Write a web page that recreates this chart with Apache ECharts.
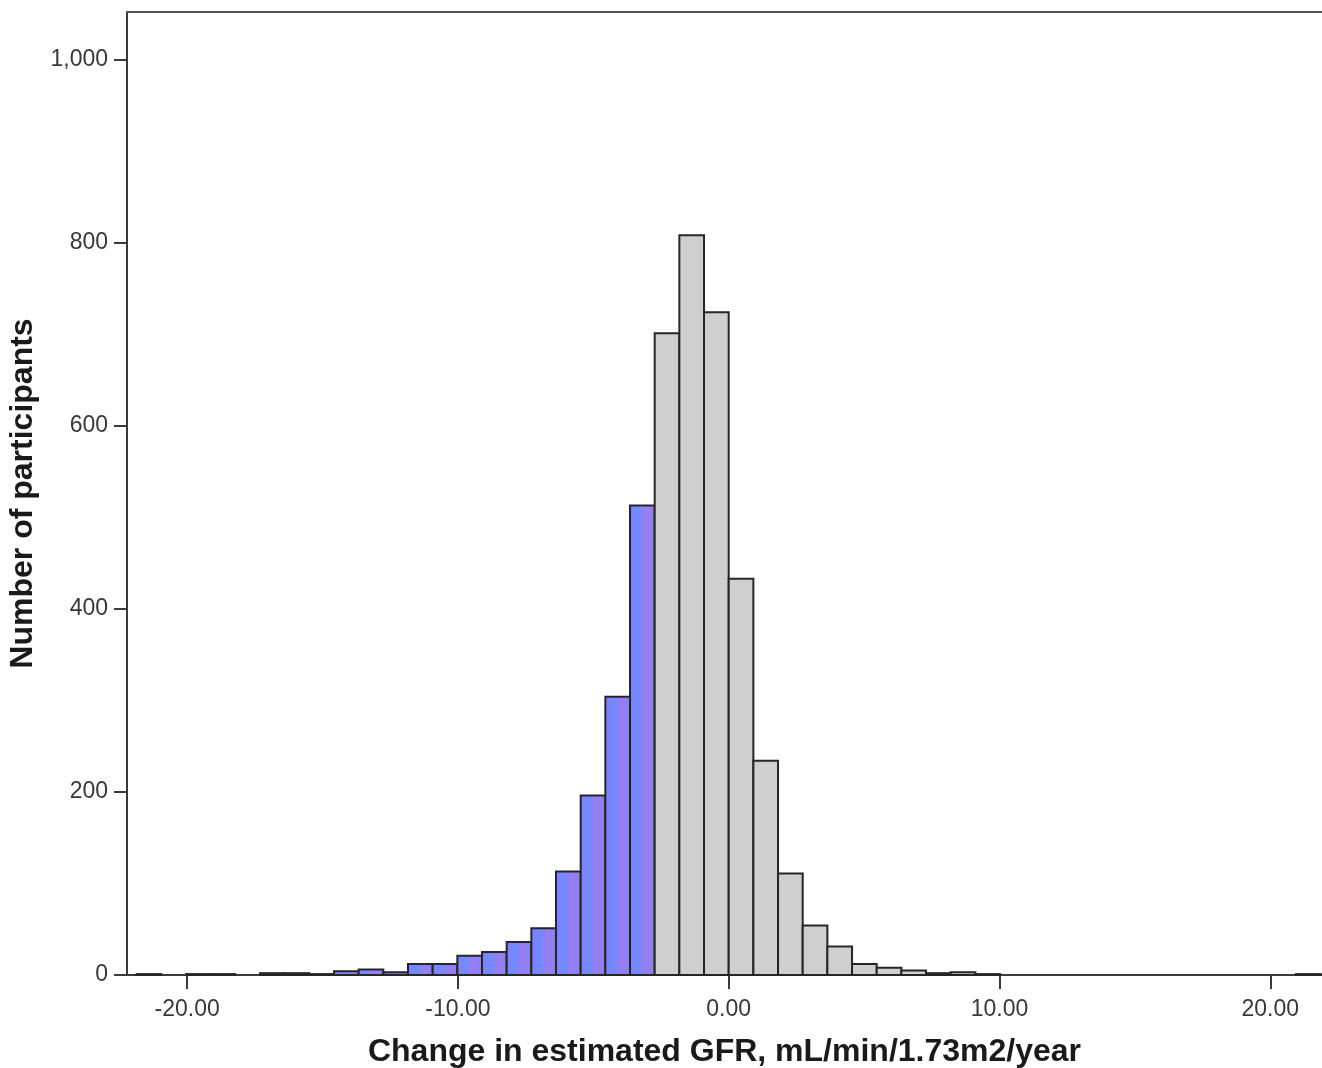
<!DOCTYPE html>
<html>
<head>
<meta charset="utf-8">
<script src="https://cdn.jsdelivr.net/npm/echarts@6/dist/echarts.min.js"></script>
<style>
html,body{margin:0;padding:0;background:#fff;}
#chart{width:1322px;height:1068px;}
</style>
</head>
<body>
<div id="chart"></div>
<script>
// Histogram bins: left edge of each bin (mL/min/1.73m2/year) and participant counts
const binWidth = 0.911;
const binLeft = [-21.864, -20.042, -19.131, -17.309, -16.398, -15.487, -14.576, -13.665, -12.754,
  -11.843, -10.932, -10.021, -9.110, -8.199, -7.288, -6.377, -5.466, -4.555, -3.644,
  -2.733, -1.822, -0.911, 0.000, 0.911, 1.822, 2.733, 3.644, 4.555, 5.466, 6.377,
  7.288, 8.199, 9.110, 20.953];
const counts = [1, 1, 1, 2, 2, 1, 4, 6, 3,
  12, 12, 21, 25, 36, 51, 113, 196, 304, 513,
  701, 808, 724, 433, 234, 111, 54, 31, 12, 8, 5,
  2, 3, 1, 1];
// Bins ending at or below this value are highlighted
const declineThreshold = -2.7;
const xTicks = [-20, -10, 0, 10, 20];
const yTicks = [0, 200, 400, 600, 800, 1000];
const xTitle = 'Change in estimated GFR, mL/min/1.73m2/year';
const yTitle = 'Number of participants';

const chart = echarts.init(document.getElementById('chart'), null, {renderer: 'canvas'});
const data = binLeft.map((l, i) => [l, l + binWidth, counts[i]]);

const blueFill = new echarts.graphic.LinearGradient(0, 0, 1, 0, [
  {offset: 0, color: '#8a7ef2'},
  {offset: 0.35, color: '#6e8bff'},
  {offset: 0.65, color: '#9a7df1'},
  {offset: 1, color: '#8383f6'}
]);

const axisColor = '#3a3a3a';
const labelStyle = {color: '#383838', fontFamily: 'Liberation Sans, Arial, sans-serif', fontSize: 23};

chart.setOption({
  animation: false,
  backgroundColor: '#ffffff',
  grid: {left: 127, right: 0, top: 12, bottom: 93, containLabel: false, outerBoundsMode: 'none'},
  xAxis: [{
    type: 'value', min: -22.22, max: 21.91,
    position: 'bottom',
    name: xTitle, nameLocation: 'middle', nameGap: 61,
    nameTextStyle: {fontFamily: 'Liberation Sans, Arial, sans-serif', fontSize: 32, fontWeight: 'bold', color: '#1a1a1a'},
    axisLine: {show: true, onZero: false, lineStyle: {color: axisColor, width: 2}},
    axisTick: {show: true, length: 14, customValues: xTicks, lineStyle: {color: axisColor, width: 2}},
    axisLabel: Object.assign({margin: 23, customValues: xTicks, formatter: v => v.toFixed(2)}, labelStyle),
    splitLine: {show: false}
  }, {
    type: 'value', min: -22.22, max: 21.91, position: 'top',
    axisLine: {show: true, onZero: false, lineStyle: {color: '#555', width: 2}},
    axisTick: {show: false}, axisLabel: {show: false}, splitLine: {show: false}
  }],
  yAxis: {
    type: 'value', min: 0, max: 1052,
    name: yTitle, nameLocation: 'middle', nameGap: 84,
    nameTextStyle: {fontFamily: 'Liberation Sans, Arial, sans-serif', fontSize: 32, fontWeight: 'bold', color: '#1a1a1a'},
    axisLine: {show: true, onZero: false, lineStyle: {color: axisColor, width: 2}},
    axisTick: {show: true, length: 13, customValues: yTicks, lineStyle: {color: axisColor, width: 2}},
    axisLabel: Object.assign({margin: 19, customValues: yTicks, formatter: v => v.toLocaleString('en-US')}, labelStyle),
    splitLine: {show: false}
  },
  series: [{
    type: 'custom',
    xAxisIndex: 0,
    encode: {x: [0, 1], y: 2},
    data: data,
    renderItem: function (params, api) {
      const x0 = api.value(0), x1 = api.value(1), y = api.value(2);
      const p0 = api.coord([x0, y]);
      const p1 = api.coord([x1, 0]);
      const blue = x1 <= declineThreshold;
      return {
        type: 'rect',
        shape: {x: p0[0], y: p0[1], width: p1[0] - p0[0], height: p1[1] - p0[1]},
        style: {fill: blue ? blueFill : '#cfcfcf', stroke: '#262626', lineWidth: 2}
      };
    }
  }]
});
</script>
</body>
</html>
